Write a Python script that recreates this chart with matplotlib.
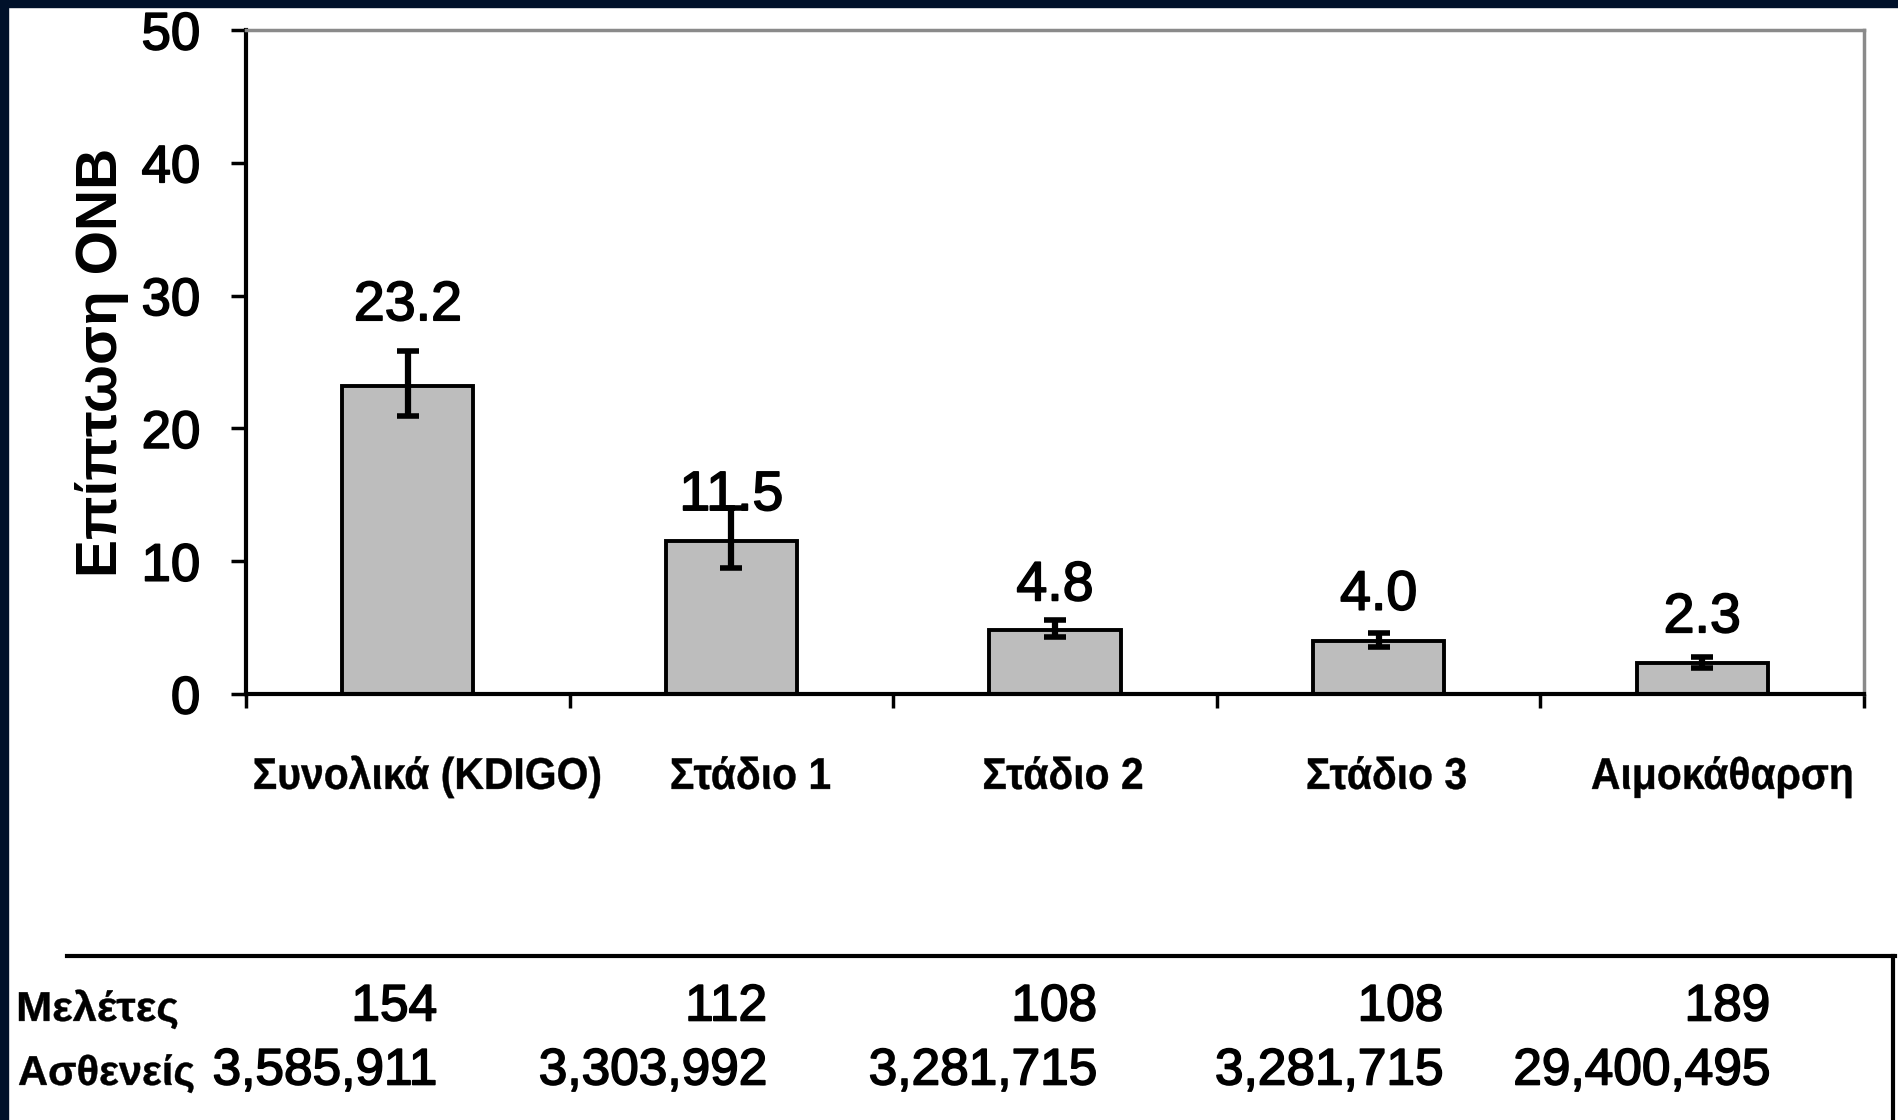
import matplotlib
matplotlib.use('Agg')
import matplotlib.pyplot as plt
import matplotlib.patheffects as pe
from matplotlib.lines import Line2D
from matplotlib.patches import Rectangle, PathPatch
from matplotlib.textpath import TextPath
from matplotlib.font_manager import FontProperties
from matplotlib.transforms import Affine2D, IdentityTransform, blended_transform_factory
import numpy as np

# Incidence of AKI per category, with asymmetric confidence limits
categories = ['Συνολικά (KDIGO)', 'Στάδιο 1', 'Στάδιο 2', 'Στάδιο 3', 'Αιμοκάθαρση']
incidence = [23.2, 11.5, 4.8, 4.0, 2.3]
err_low = [2.3, 2.0, 0.5, 0.45, 0.35]
err_high = [2.6, 2.5, 0.8, 0.6, 0.5]
studies = ['154', '112', '108', '108', '189']
patients = ['3,585,911', '3,303,992', '3,281,715', '3,281,715', '29,400,495']
y_ticks = [0, 10, 20, 30, 40, 50]

W, H = 1898, 1120
plt.rcParams['font.family'] = ['Liberation Sans', 'DejaVu Sans']
heavy = [pe.withStroke(linewidth=1.2, foreground='black')]

fig = plt.figure(figsize=(W / 100, H / 100), dpi=100)
fig.patch.set_facecolor('white')


def narrow_text(x_px, y_px, s, size, sx=1.0, ha='center', weight='bold'):
    """Draw text stretched by sx, centred vertically on (x_px, y_px) in pixels from top-left."""
    fp = FontProperties(family='Liberation Sans', weight=weight)
    tp = TextPath((0, 0), s, size=size, prop=fp)
    bb = tp.get_extents()
    k = fig.dpi / 72
    width = bb.width * sx * k
    if ha == 'center':
        x0 = x_px - width / 2
    elif ha == 'right':
        x0 = x_px - width
    else:
        x0 = x_px
    y0 = (H - y_px) - 0.716 * size * k / 2
    tr = Affine2D().translate(-bb.x0, 0).scale(sx * k, k).translate(x0, y0)
    fig.add_artist(PathPatch(tp, transform=tr + IdentityTransform(),
                             facecolor='black', edgecolor='black', linewidth=0.3))


ax = fig.add_axes([246 / W, 1 - 694 / H, (1864 - 246) / W, (694 - 30) / H])
x = np.arange(len(categories))

ax.bar(x, incidence, width=0.405, color='#bdbdbd', edgecolor='black',
       linewidth=2.8, zorder=2)
ax.errorbar(x, incidence, yerr=[err_low, err_high], fmt='none', ecolor='black',
            elinewidth=4.5, capsize=8, capthick=4, zorder=3)

# value labels above the bars
label_pad = [6.0, 3.4, 3.3, 3.4, 3.4]
for xi, v, p in zip(x, incidence, label_pad):
    ax.text(xi, v + p, f'{v:.1f}', ha='center', va='center', fontsize=40, zorder=4,
            path_effects=heavy)

ax.set_xlim(-0.5, len(categories) - 0.5)
ax.set_ylim(0, 50)
ax.set_yticks(y_ticks)
ax.set_xticks(np.arange(-0.5, len(categories)))
ax.set_xticklabels([])
ax.tick_params(axis='y', direction='out', length=11, width=2.5, pad=22, labelsize=38)
ax.tick_params(axis='x', direction='out', length=10, width=2.5)
for lbl in ax.get_yticklabels():
    lbl.set_path_effects(heavy)

for side in ['left', 'bottom']:
    ax.spines[side].set_linewidth(3)
    ax.spines[side].set_color('black')
for side in ['top', 'right']:
    ax.spines[side].set_linewidth(2.5)
    ax.spines[side].set_color('#8a8a8a')

ax.set_ylabel('Επίπτωση ΟΝΒ', fontsize=41, fontweight='bold')
ax.yaxis.set_label_coords((129 - 246) / (1864 - 246), 0.5)

# category names under the axis (pixel positions from the axes scale)
label_shift = [0.06, 0.06, 0.025, 0.025, 0.06]
for xi, name, sh in zip(x, categories, label_shift):
    px = ax.transData.transform((xi + sh, 0))[0]
    narrow_text(px, 773, name, 32, sx=0.92)

# table of studies and patients
narrow_text(19, 1006, 'Μελέτες', 30, sx=1.04, ha='left')
narrow_text(19, 1070, 'Ασθενείς', 30, sx=1.0, ha='left')
ftrans = blended_transform_factory(ax.transData, fig.transFigure)
col_right = [0.09, 0.11, 0.13, 0.20, 0.21]
for xi, s, p, r in zip(x, studies, patients, col_right):
    ax.text(xi + r, 1 - 1007 / H, s, transform=ftrans, ha='right', va='center',
            fontsize=37, clip_on=False, path_effects=heavy)
    ax.text(xi + r, 1 - 1071 / H, p, transform=ftrans, ha='right', va='center',
            fontsize=37, clip_on=False, path_effects=heavy)

fig.add_artist(Line2D([67 / W, 1895 / W], [1 - 956 / H, 1 - 956 / H],
                      transform=fig.transFigure, color='black', linewidth=3))
fig.add_artist(Line2D([1893 / W, 1893 / W], [1 - 956 / H, 0],
                      transform=fig.transFigure, color='black', linewidth=3))

# dark frame along the top and left edges
fig.add_artist(Rectangle((0, 1 - 7 / H), 1, 7 / H, transform=fig.transFigure,
                         color='#00112a', zorder=10))
fig.add_artist(Rectangle((0, 0), 8 / W, 1, transform=fig.transFigure,
                         color='#00112a', zorder=10))

fig.savefig('out.png', dpi=100)
